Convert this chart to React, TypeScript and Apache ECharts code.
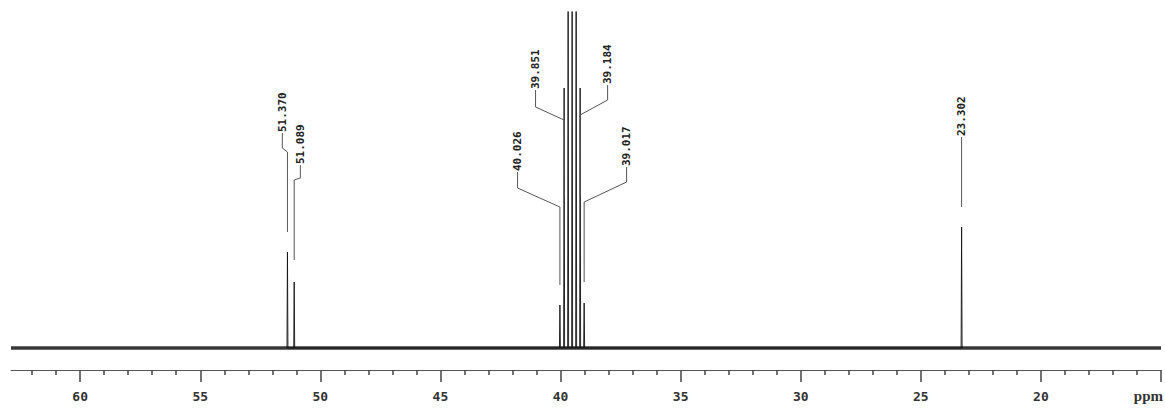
import React, { useEffect, useRef } from 'react';
import * as echarts from 'echarts';

// Spectrum range (ppm) and baseline
const axisMinPpm = 15;
const axisMaxPpm = 62.88;
const baselinePpm = [62.88, 15];

// Peaks: chemical shift (ppm) and height (intensity units above baseline)
const peakPpm = [51.37, 51.089, 40.026, 39.851, 39.684, 39.517, 39.35, 39.184, 39.017, 23.302];
const peakHeight = [96, 66, 43, 260, 400, 400, 400, 260, 45, 121];
const peakHalfWidth = 0.02;

// Axis ticks
const majorTicks = [15, 20, 25, 30, 35, 40, 45, 50, 55, 60];
const tickLabels = [20, 25, 30, 35, 40, 45, 50, 55, 60];
const minorTicks = [16, 17, 18, 19, 21, 22, 23, 24, 26, 27, 28, 29, 31, 32, 33, 34, 36, 37, 38, 39, 41, 42, 43, 44, 46, 47, 48, 49, 51, 52, 53, 54, 56, 57, 58, 59, 61, 62];

// Peak annotations
const labelText = ['51.370', '51.089', '40.026', '39.851', '39.184', '39.017', '23.302'];
const labelPeakPpm = [51.37, 51.089, 40.026, 39.851, 39.184, 39.017, 23.302];
const labelPosPpm = [51.583, 50.833, 41.79, 41.04, 38.04, 37.25, 23.302];
const labelBottom = [215, 183, 176, 258, 263, 181, 211];
const elbowTop = [200, 170, 160, 241, 248, 166, 208];
const elbowBottom = [196, 168, 141, 228, 233, 146, 205];
const leaderEnd = [116, 88, 63, 151, 151, 66, 141];

export default function App() {
  const ref = useRef<HTMLDivElement>(null);
  useEffect(() => {
    if (!ref.current) return;
    const chart = echarts.init(ref.current, null, { renderer: 'svg' });

    const order = peakPpm.map((_, i) => i).sort((a, b) => peakPpm[a] - peakPpm[b]);
    const spikes: number[][] = [];
    order.forEach((i) => {
      spikes.push([peakPpm[i] - peakHalfWidth, 0]);
      spikes.push([peakPpm[i], peakHeight[i]]);
      spikes.push([peakPpm[i] + peakHalfWidth, 0]);
    });

    const option: any = {
      animation: false,
      grid: { left: 11, right: 4, top: 12, bottom: 39 },
      xAxis: [
        {
          type: 'value',
          inverse: true,
          min: axisMinPpm,
          max: axisMaxPpm,
          position: 'bottom',
          splitLine: { show: false },
          axisLine: { show: true, onZero: false, lineStyle: { color: '#555', width: 1 } },
          axisTick: { show: true, length: 12, customValues: majorTicks, lineStyle: { color: '#444', width: 1.5 } },
          axisLabel: {
            show: true,
            customValues: tickLabels,
            margin: 20,
            color: '#333',
            fontFamily: '"DejaVu Sans Mono"',
            fontWeight: 'bold',
            fontSize: 13,
            formatter: (v: number) => String(v),
          },
        },
        {
          type: 'value',
          inverse: true,
          min: axisMinPpm,
          max: axisMaxPpm,
          position: 'bottom',
          splitLine: { show: false },
          axisLine: { show: false, onZero: false },
          axisTick: { show: true, length: 5, customValues: minorTicks, lineStyle: { color: '#444', width: 1.5 } },
          axisLabel: { show: false },
        },
      ],
      yAxis: { type: 'value', show: false, min: -22, max: 336 },
      graphic: [
        {
          type: 'text',
          right: 2,
          top: 388,
          style: { text: 'ppm', fill: '#333', font: 'bold 15px "Liberation Serif"' },
        },
      ],
      series: [
        {
          type: 'line',
          data: baselinePpm.map((p) => [p, 0]),
          symbol: 'none',
          lineStyle: { color: 'rgba(0,0,0,0.78)', width: 3.5 },
          z: 2,
        },
        {
          type: 'line',
          data: spikes,
          symbol: 'none',
          clip: true,
          lineStyle: { color: '#111', width: 0.9 },
          z: 3,
        },
        {
          type: 'custom',
          data: labelPeakPpm.map((p, i) => [p, leaderEnd[i]]),
          encode: { x: 0, y: 1 },
          z: 4,
          renderItem: (params: any, api: any) => {
            const i = params.dataIndex;
            const pTop = api.coord([labelPosPpm[i], labelBottom[i]]);
            const pE1 = api.coord([labelPosPpm[i], elbowTop[i]]);
            const pE2 = api.coord([labelPeakPpm[i], elbowBottom[i]]);
            const pEnd = api.coord([labelPeakPpm[i], leaderEnd[i]]);
            return {
              type: 'group',
              children: [
                {
                  type: 'polyline',
                  shape: { points: [pTop, pE1, pE2, pEnd] },
                  style: { stroke: '#555', lineWidth: 1, fill: null },
                },
                {
                  type: 'text',
                  x: pTop[0],
                  y: pTop[1] - 1,
                  rotation: Math.PI / 2,
                  style: {
                    text: labelText[i],
                    fill: '#222',
                    font: 'bold 11px "DejaVu Sans Mono"',
                    align: 'left',
                    verticalAlign: 'middle',
                  },
                },
              ],
            };
          },
        },
      ],
    };
    chart.setOption(option);
    return () => chart.dispose();
  }, []);
  return (
    <div
      ref={ref}
      style={{ position: 'absolute', left: 0, top: 0, width: 1165, height: 409, background: '#fff' }}
    />
  );
}
